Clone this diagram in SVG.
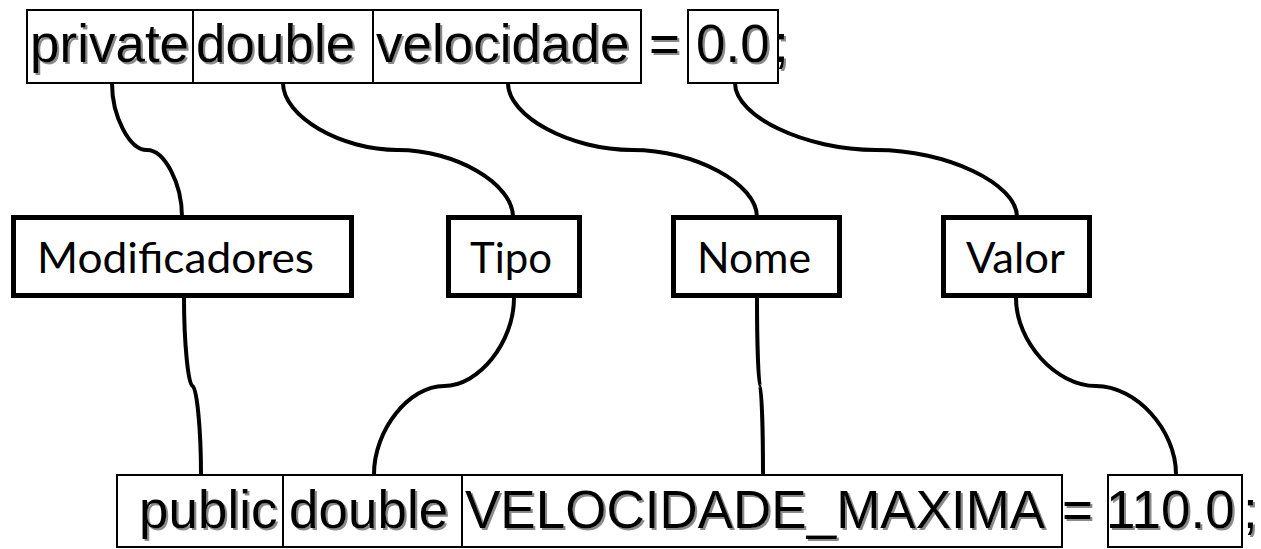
<svg xmlns="http://www.w3.org/2000/svg" width="1261" height="549" viewBox="0 0 1261 549">
<defs>
<filter id="sh" x="-5%" y="-5%" width="115%" height="130%">
<feDropShadow dx="2" dy="2" stdDeviation="0.6" flood-color="#8a8a8a" flood-opacity="1"/>
</filter>
<style>
.code{font-family:"Liberation Sans",Arial,Helvetica,sans-serif;font-size:53px;fill:#000;filter:url(#sh)}
.cbox{fill:none;stroke:#000;stroke-width:2}
.lbox{fill:#fff;stroke:#000;stroke-width:5}
.lbl{font-family:Lato,"Open Sans",sans-serif;font-size:42px;fill:#000}
.con{fill:none;stroke:#000;stroke-width:4}
</style>
</defs>
<rect width="1261" height="549" fill="#fff"/>
<g id="connectors">
<path class="con" d="M112,83 C112,116.5 129.5,150 147,150 C164.5,150 182,183.5 182,217"/>
<path class="con" d="M283,83 C283,116.5 340.5,150 398,150 C455.5,150 513,183.5 513,217"/>
<path class="con" d="M508,83 C508,116.5 570.25,150 632.5,150 C694.75,150 757,183.5 757,217"/>
<path class="con" d="M735,83 C735,116.5 805.5,150 876,150 C946.5,150 1017,183.5 1017,217"/>
<path class="con" d="M184,298 C184,342 188.25,386 192.5,386 C196.75,386 201,430 201,474"/>
<path class="con" d="M514,298 C514,342 479,386 444,386 C409,386 374,430 374,474"/>
<path class="con" d="M757,298 C757,342 758.5,386 760,386 C761.5,386 763,430 763,474"/>
<path class="con" d="M1016,298 C1016,342 1056,386 1096,386 C1136,386 1176,430 1176,474"/>
</g>
<g id="top-private"><rect class="cbox" x="27" y="10" width="166" height="73"/><text class="code" x="30" y="62">private</text></g>
<g id="top-double"><rect class="cbox" x="193" y="10" width="180" height="73"/><text class="code" x="196" y="62">double</text></g>
<g id="top-velocidade"><rect class="cbox" x="373" y="10" width="268" height="73"/><text class="code" x="376" y="62">velocidade</text></g>
<g id="top-eq"><text class="code" x="649" y="62">=</text></g>
<g id="top-value"><rect class="cbox" x="688" y="10" width="90" height="73"/><text class="code" x="696" y="62">0.0</text></g>
<g id="top-semi"><text class="code" x="774" y="62">;</text></g>
<g id="modificadores"><rect class="lbox" x="13.5" y="217.5" width="338" height="78"/><text class="lbl" x="37" y="273" textLength="277" lengthAdjust="spacingAndGlyphs">Modificadores</text></g>
<g id="tipo"><rect class="lbox" x="448.5" y="217.5" width="131" height="78"/><text class="lbl" x="470" y="273" textLength="82" lengthAdjust="spacingAndGlyphs">Tipo</text></g>
<g id="nome"><rect class="lbox" x="673.5" y="217.5" width="166" height="78"/><text class="lbl" x="697" y="273" textLength="114" lengthAdjust="spacingAndGlyphs">Nome</text></g>
<g id="valor"><rect class="lbox" x="943.5" y="217.5" width="146" height="78"/><text class="lbl" x="966" y="273" textLength="99" lengthAdjust="spacingAndGlyphs">Valor</text></g>
<g id="bot-public"><rect class="cbox" x="117" y="475" width="166" height="72"/><text class="code" x="139" y="528">public</text></g>
<g id="bot-double"><rect class="cbox" x="283" y="475" width="179" height="72"/><text class="code" x="289" y="528">double</text></g>
<g id="bot-name"><rect class="cbox" x="462" y="475" width="600" height="72"/><text class="code" x="465" y="528">VELOCIDADE_MAXIMA</text></g>
<g id="bot-eq"><text class="code" x="1062" y="528">=</text></g>
<g id="bot-value"><rect class="cbox" x="1108" y="475" width="134" height="72"/><text class="code" x="1106" y="528">110.0</text></g>
<g id="bot-semi"><text class="code" x="1243" y="528">;</text></g>
</svg>
